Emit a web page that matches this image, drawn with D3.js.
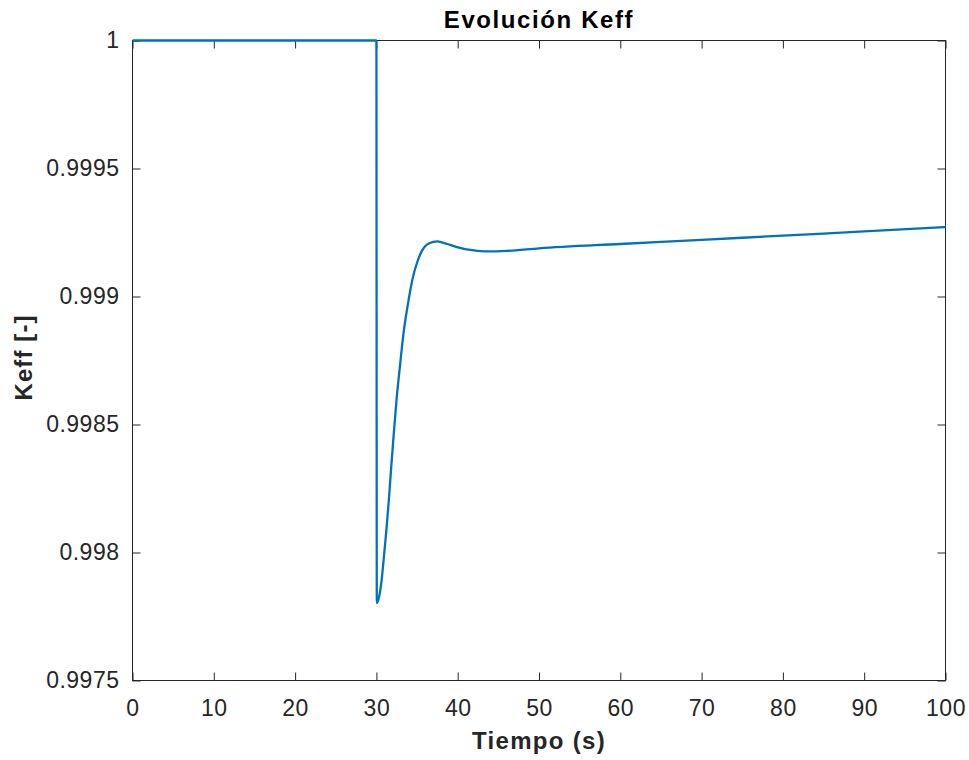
<!DOCTYPE html>
<html>
<head>
<meta charset="utf-8">
<script src="https://cdn.jsdelivr.net/npm/d3@7"></script>
<style>
  html, body { margin: 0; padding: 0; background: #fff; }
  svg { display: block; }
  text { font-family: "Liberation Sans", Arial, Helvetica, sans-serif; }
</style>
</head>
<body>
<div id="chart"></div>
<script>
// Keff evolution data
const time = [0, 30, 30.05, 30.34, 30.59, 30.84, 31.2, 31.53, 31.82, 32.14, 32.47, 32.88, 33.33, 33.98, 34.53, 34.93, 35.63, 36.5, 37.5, 38.7, 39.9, 42.0, 43.5, 46.0, 50, 60, 70, 80, 90, 100]
const keff = [1, 1, 0.997802, 0.997828, 0.997878, 0.997955, 0.998078, 0.998205, 0.998332, 0.998465, 0.998594, 0.998723, 0.998855, 0.99899, 0.99908, 0.999125, 0.99918, 0.999208, 0.999215, 0.999205, 0.999193, 0.99918, 0.999176, 0.999178, 0.999188, 0.999205, 0.999221, 0.999238, 0.999254, 0.999271]

const xTicks = [0, 10, 20, 30, 40, 50, 60, 70, 80, 90, 100]
const yTicks = [0.9975, 0.998, 0.9985, 0.999, 0.9995, 1]
const yTickLabels = ["0.9975", "0.998", "0.9985", "0.999", "0.9995", "1"]

const titleText = "Evolución Keff"
const xLabelText = "Tiempo (s)"
const yLabelText = "Keff [-]"

const width = 969
const height = 760
const margin = { top: 40.5, right: 23.5, bottom: 79.5, left: 132.5 }
const w = width - margin.left - margin.right
const h = height - margin.top - margin.bottom
const axisColor = "#262626"

const svg = d3.select("#chart").append("svg").attr("width", width).attr("height", height)
const g = svg.append("g").attr("transform", `translate(${margin.left},${margin.top})`)

const x = d3.scaleLinear().domain([0, 100]).range([0, w])
const y = d3.scaleLinear().domain([0.9975, 1]).range([h, 0])

// Axes with inward ticks on all sides
const styleAxis = (sel) => {
  sel.select(".domain").remove()
  sel.selectAll(".tick line").attr("stroke", axisColor)
  sel.selectAll(".tick text")
    .attr("fill", axisColor)
    .style("font-size", "23px")
    .style("letter-spacing", "0.5px")
}

g.append("g")
  .attr("transform", `translate(0,${h})`)
  .call(d3.axisBottom(x).tickValues(xTicks).tickSize(-8).tickPadding(19).tickFormat(d3.format("d")))
  .call(styleAxis)

g.append("g")
  .call(d3.axisTop(x).tickValues(xTicks).tickSize(-8).tickFormat(""))
  .call(styleAxis)

g.append("g")
  .call(d3.axisLeft(y).tickValues(yTicks).tickSize(-8).tickPadding(13).tickFormat((d, i) => yTickLabels[i]))
  .call(styleAxis)

g.append("g")
  .attr("transform", `translate(${w},0)`)
  .call(d3.axisRight(y).tickValues(yTicks).tickSize(-8).tickFormat(""))
  .call(styleAxis)

// Box
g.append("rect")
  .attr("width", w).attr("height", h)
  .style("fill", "none")
  .style("stroke", axisColor)
  .style("stroke-width", 1)

// Line (clipped to plot box), drawn over the box like MATLAB
svg.append("defs").append("clipPath").attr("id", "clip").append("rect")
  .attr("x", -1).attr("y", -2).attr("width", w + 2).attr("height", h + 4)

const data = time.map((t, i) => ({ t, v: keff[i] }))
const line = d3.line().x((d) => x(d.t)).y((d) => y(d.v)).curve(d3.curveMonotoneX)

g.append("path")
  .datum(data)
  .attr("clip-path", "url(#clip)")
  .attr("d", line)
  .style("fill", "none")
  .style("stroke", "#0072BD")
  .style("stroke-width", 2.3)
  .style("stroke-linejoin", "round")

// Title and labels
svg.append("text")
  .attr("x", margin.left + w / 2)
  .attr("y", 28)
  .attr("text-anchor", "middle")
  .style("font-size", "24px")
  .style("font-weight", "bold")
  .style("letter-spacing", "1.6px")
  .attr("fill", "#000")
  .text(titleText)

svg.append("text")
  .attr("x", margin.left + w / 2)
  .attr("y", 749)
  .attr("text-anchor", "middle")
  .style("font-size", "24px")
  .style("font-weight", "bold")
  .style("letter-spacing", "1.3px")
  .attr("fill", axisColor)
  .text(xLabelText)

svg.append("text")
  .attr("transform", `translate(32,${margin.top + h / 2 - 3}) rotate(-90)`)
  .attr("text-anchor", "middle")
  .style("font-size", "24px")
  .style("font-weight", "bold")
  .style("letter-spacing", "1.1px")
  .attr("fill", axisColor)
  .text(yLabelText)
</script>
</body>
</html>
